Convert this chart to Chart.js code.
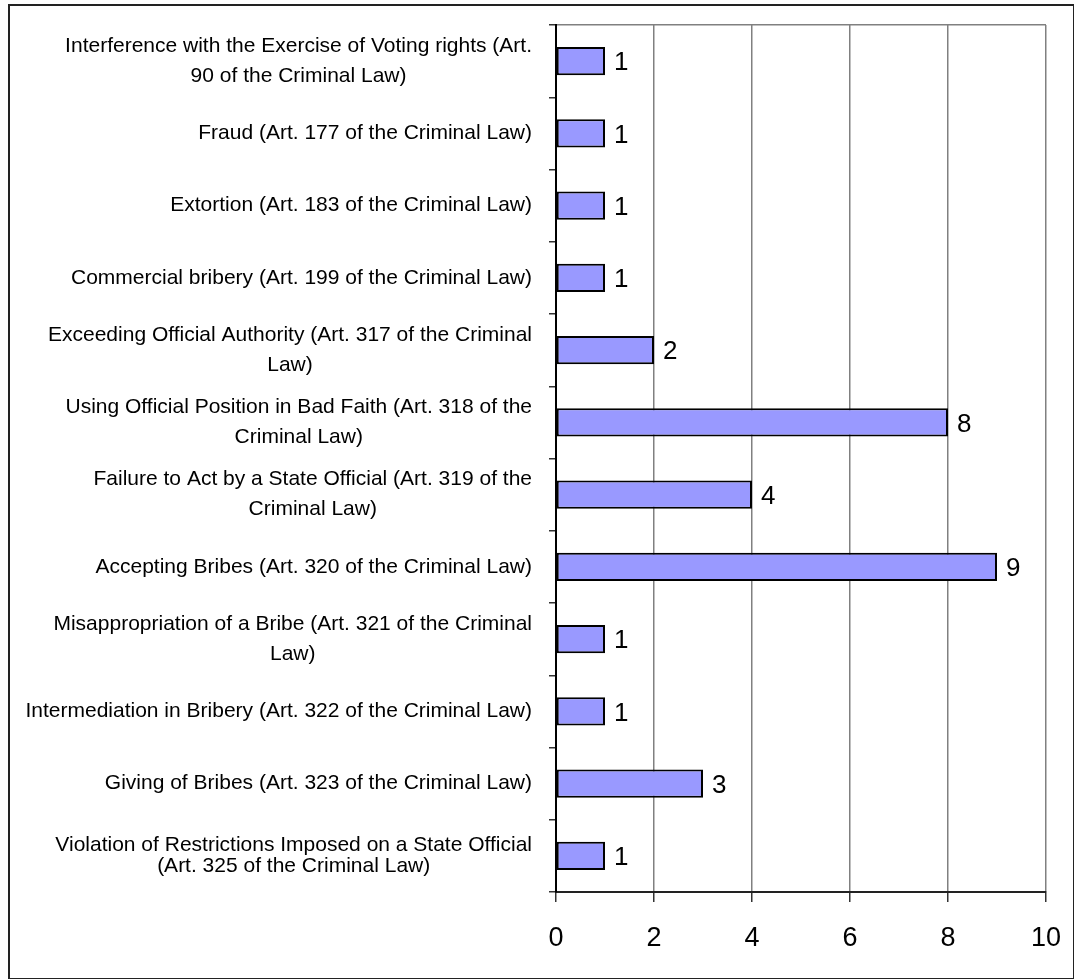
<!DOCTYPE html>
<html>
<head>
<meta charset="utf-8">
<title>Criminal cases by article</title>
<script src="https://cdn.jsdelivr.net/npm/chart.js@4.4.1/dist/chart.umd.min.js"></script>
<style>
  html, body { margin: 0; padding: 0; background: #fff; }
  #wrap { position: relative; width: 1074px; height: 979px; }
  #frame {
    position: absolute; left: 8px; top: 4px; right: 0; bottom: 0;
    border-left: 2px solid #222; border-top: 2px solid #222;
    border-right: 1px solid #222; border-bottom: 1px solid #222;
    pointer-events: none;
  }
</style>
</head>
<body>
<div id="wrap">
  <canvas id="chart" width="1074" height="979"></canvas>
  <div id="frame"></div>
</div>
<script>
const categories = [
    ['Interference with the Exercise of Voting rights (Art.', '90 of the Criminal Law)'],
    ['Fraud (Art. 177 of the Criminal Law)'],
    ['Extortion (Art. 183 of the Criminal Law)'],
    ['Commercial bribery (Art. 199 of the Criminal Law)'],
    ['Exceeding Official Authority (Art. 317 of the Criminal', 'Law)'],
    ['Using Official Position in Bad Faith (Art. 318 of the', 'Criminal Law)'],
    ['Failure to Act by a State Official (Art. 319 of the', 'Criminal Law)'],
    ['Accepting Bribes (Art. 320 of the Criminal Law)'],
    ['Misappropriation of a Bribe (Art. 321 of the Criminal', 'Law)'],
    ['Intermediation in Bribery (Art. 322 of the Criminal Law)'],
    ['Giving of Bribes (Art. 323 of the Criminal Law)'],
    ['Violation of Restrictions Imposed on a State Official', '(Art. 325 of the Criminal Law)']
];
const caseCounts = [1, 1, 1, 1, 2, 8, 4, 9, 1, 1, 3, 1];
const xMin = 0;
const xMax = 10;
const xStep = 2;

const FONT = '"Liberation Sans", Arial, sans-serif';

// category labels: blocks right-aligned next to the axis, lines centred within a block
const categoryLabels = {
    id: 'categoryLabels',
    afterDraw(chart) {
        const { ctx, chartArea, scales: { y } } = chart;
        ctx.save();
        ctx.font = '21px ' + FONT;
        ctx.fillStyle = '#000';
        ctx.textAlign = 'center';
        ctx.textBaseline = 'middle';
        const right = chartArea.left - 24;
        categories.forEach((lines, i) => {
            const gap = i === categories.length - 1 ? 21 : 30;
            const w = Math.max(...lines.map(l => ctx.measureText(l).width));
            const cx = right - w / 2;
            const cy = y.getPixelForValue(i);
            lines.forEach((line, k) => {
                ctx.fillText(line, cx, cy + (k - (lines.length - 1) / 2) * gap);
            });
        });
        ctx.restore();
    }
};

// value next to the end of every bar
const valueLabels = {
    id: 'valueLabels',
    afterDatasetsDraw(chart) {
        const { ctx } = chart;
        const meta = chart.getDatasetMeta(0);
        ctx.save();
        ctx.font = '26px ' + FONT;
        ctx.fillStyle = '#000';
        ctx.textAlign = 'left';
        ctx.textBaseline = 'middle';
        meta.data.forEach((bar, i) => {
            ctx.fillText(String(caseCounts[i]), bar.x + 9, bar.y + 2);
        });
        ctx.restore();
    }
};

const ctx = document.getElementById('chart').getContext('2d');
const chart = new Chart(ctx, {
    type: 'bar',
    data: {
        labels: categories,
        datasets: [{
            data: caseCounts,
            backgroundColor: '#9999ff',
            borderColor: '#000',
            borderWidth: 2,
            borderSkipped: false,
            barPercentage: 0.39,
            categoryPercentage: 1
        }]
    },
    options: {
        indexAxis: 'y',
        responsive: false,
        animation: false,
        layout: { padding: { top: 25, right: 0, left: 0, bottom: 0 } },
        plugins: {
            legend: { display: false },
            tooltip: { enabled: false }
        },
        scales: {
            x: {
                min: xMin,
                max: xMax,
                ticks: {
                    stepSize: xStep,
                    color: '#000',
                    padding: 20,
                    maxRotation: 0,
                    font: { family: FONT, size: 27 }
                },
                grid: { color: '#808080', lineWidth: 1.5, tickLength: 10, tickColor: '#333' },
                border: { color: '#222', width: 2 },
                afterFit(scale) {
                    scale.height = 87;
                    scale.paddingLeft = 0;
                    scale.paddingRight = 28;
                }
            },
            y: {
                ticks: { display: false },
                grid: {
                    offset: true,
                    color: c => c.index === 0 ? '#808080' : 'rgba(0,0,0,0)',
                    lineWidth: 1.5,
                    tickLength: 7,
                    tickColor: '#333'
                },
                border: { color: '#000', width: 2 },
                afterFit(scale) { scale.width = 556; }
            }
        }
    },
    plugins: [categoryLabels, valueLabels]
});
</script>
</body>
</html>
